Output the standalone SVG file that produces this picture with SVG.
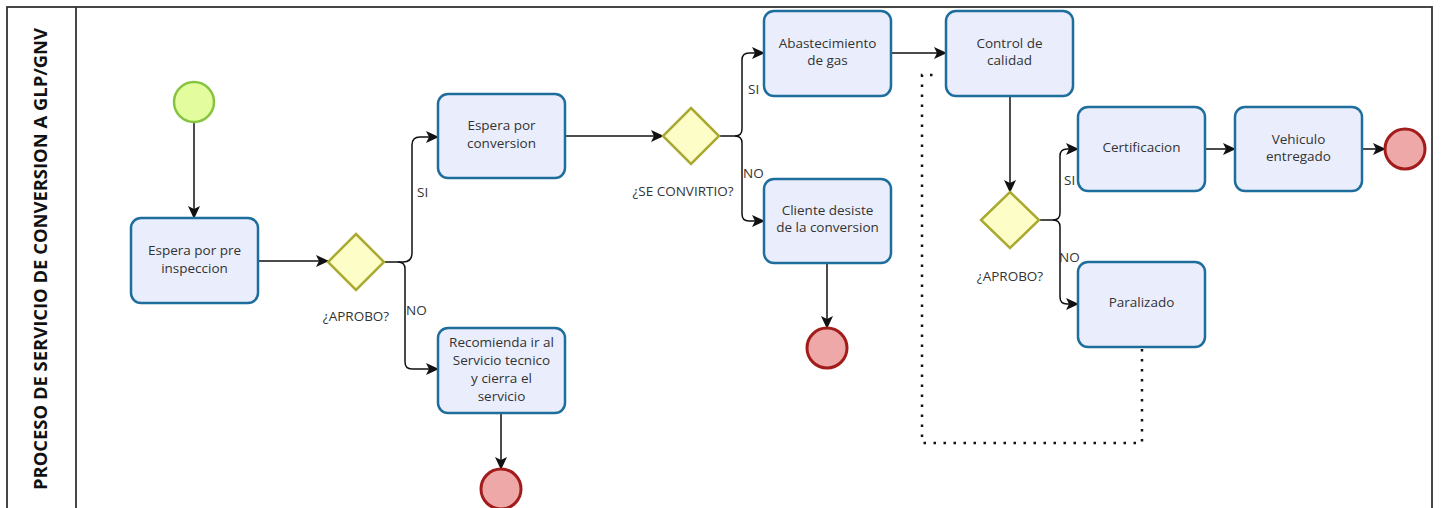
<svg xmlns="http://www.w3.org/2000/svg" width="1442" height="508" viewBox="0 0 1442 508">
<style>
.task rect{fill:#eaeefc;stroke:#1d6e9c;stroke-width:2.5}
.gw polygon{fill:#fdfdc8;stroke:#aaaa33;stroke-width:2.5}
.start circle{fill:#e3fc9d;stroke:#86c440;stroke-width:2.5}
.end circle{fill:#eea8a8;stroke:#a31c1c;stroke-width:3}
text{font-family:"Open Sans","Liberation Sans",sans-serif;font-size:13.5px;fill:#333}
.c{text-anchor:middle}
.title{font-weight:bold;font-size:18px;fill:#111;text-anchor:middle}
.conn path{fill:none;stroke:#111;stroke-width:1.5}
.conn path.flow{marker-end:url(#arr)}
.conn path.dot{stroke-width:2.5;stroke-dasharray:2.5 7.5}
</style>
<defs>
<marker id="arr" markerWidth="14" markerHeight="12" refX="12" refY="6" orient="auto" markerUnits="userSpaceOnUse">
<path d="M0,0 L13,6 L0,12 L3,6 z" fill="#111"/>
</marker>
</defs>
<rect x="0" y="0" width="1442" height="508" fill="#fff"/>
<g id="pool">
<rect x="7" y="7" width="1425" height="520" fill="none" stroke="#333" stroke-width="1.8"/>
<line x1="76" y1="7" x2="76" y2="510" stroke="#333" stroke-width="1.8"/>
<text class="title" transform="translate(46.5,259) rotate(-90)" textLength="462" lengthAdjust="spacingAndGlyphs">PROCESO DE SERVICIO DE CONVERSION A GLP/GNV</text>
</g>
<g class="conn" id="connectors">
<path class="flow" d="M194,122 V218"/>
<path class="flow" d="M258,261 H328"/>
<path class="flow" d="M384,262 H403 Q412,262 412,253 V145 Q412,137 420,137 H438"/>
<path class="flow" d="M398,262 Q405,262 405,269 V362 Q405,369 412,369 H438"/>
<path class="flow" d="M501,413 V469"/>
<path class="flow" d="M565,136 H663"/>
<path class="flow" d="M719,136 H735 Q742,136 742,129 V60 Q742,53 749,53 H764"/>
<path class="flow" d="M735,136 Q742,136 742,143 V214 Q742,221 749,221 H764"/>
<path class="flow" d="M827,263 V328"/>
<path class="flow" d="M891,53 H946"/>
<path class="flow" d="M1010,96 V192"/>
<path class="flow" d="M1039,220 H1053 Q1060,220 1060,213 V156 Q1060,149 1067,149 H1078"/>
<path class="flow" d="M1053,220 Q1060,220 1060,227 V297 Q1060,304 1067,304 H1078"/>
<path class="flow" d="M1205,149 H1235"/>
<path class="flow" d="M1362,149 H1385"/>
<path class="dot" d="M1142,349 V443 H922 V75 H940"/>
<text x="417" y="197">SI</text>
<text x="406" y="315">NO</text>
<text x="748" y="94">SI</text>
<text x="743" y="178">NO</text>
<text x="1064" y="185">SI</text>
<text x="1059" y="262">NO</text>
</g>
<g id="start" class="start"><circle cx="194" cy="102" r="20"/></g>
<g id="t_preinspeccion" class="task"><rect x="131" y="218" width="127" height="85" rx="10"/>
<text class="c" x="194.5" y="255">Espera por pre</text><text class="c" x="194.5" y="272.5">inspeccion</text></g>
<g id="gw1" class="gw"><polygon points="356,234 384,262 356,290 328,262"/>
<text class="c" x="356" y="321">¿APROBO?</text></g>
<g id="t_conversion" class="task"><rect x="438" y="94" width="127" height="84" rx="10"/>
<text class="c" x="501.5" y="130">Espera por</text><text class="c" x="501.5" y="147.5">conversion</text></g>
<g id="t_recomienda" class="task"><rect x="438" y="328" width="127" height="85" rx="10"/>
<text class="c" x="501.5" y="347">Recomienda ir al</text><text class="c" x="501.5" y="365">Servicio tecnico</text><text class="c" x="501.5" y="383">y cierra el</text><text class="c" x="501.5" y="401">servicio</text></g>
<g id="end1" class="end"><circle cx="501" cy="489" r="20"/></g>
<g id="gw2" class="gw"><polygon points="691,108 719,136 691,164 663,136"/>
<text class="c" x="683" y="196">¿SE CONVIRTIO?</text></g>
<g id="t_abastecimiento" class="task"><rect x="764" y="11" width="127" height="85" rx="10"/>
<text class="c" x="827.5" y="47.5">Abastecimiento</text><text class="c" x="827.5" y="65">de gas</text></g>
<g id="t_cliente" class="task"><rect x="764" y="179" width="127" height="84" rx="10"/>
<text class="c" x="827.5" y="214.5">Cliente desiste</text><text class="c" x="827.5" y="232">de la conversion</text></g>
<g id="end2" class="end"><circle cx="827" cy="348" r="20"/></g>
<g id="t_control" class="task"><rect x="946" y="11" width="127" height="85" rx="10"/>
<text class="c" x="1009.5" y="47.5">Control de</text><text class="c" x="1009.5" y="65">calidad</text></g>
<g id="gw3" class="gw"><polygon points="1010,192 1039,220 1010,248 981,220"/>
<text class="c" x="1010" y="281">¿APROBO?</text></g>
<g id="t_certificacion" class="task"><rect x="1078" y="107" width="127" height="84" rx="10"/>
<text class="c" x="1141.5" y="151.5">Certificacion</text></g>
<g id="t_paralizado" class="task"><rect x="1078" y="262" width="127" height="85" rx="10"/>
<text class="c" x="1141.5" y="306.5">Paralizado</text></g>
<g id="t_vehiculo" class="task"><rect x="1235" y="107" width="127" height="84" rx="10"/>
<text class="c" x="1298.5" y="143.5">Vehiculo</text><text class="c" x="1298.5" y="161">entregado</text></g>
<g id="end3" class="end"><circle cx="1405" cy="149" r="20"/></g>
</svg>
